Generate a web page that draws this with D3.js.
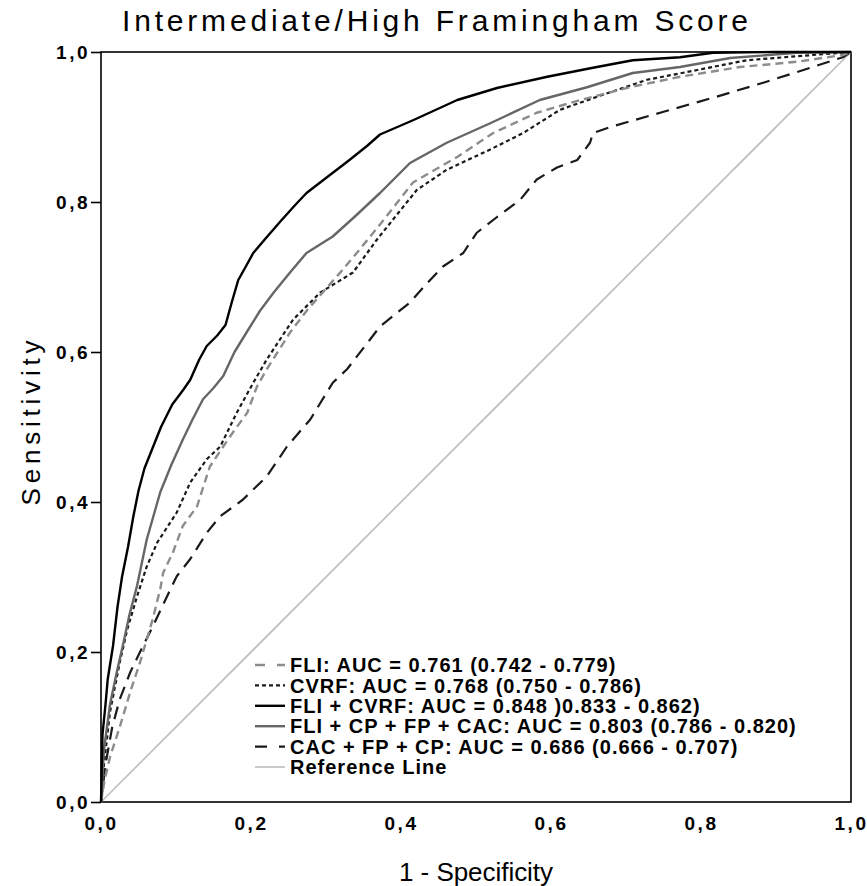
<!DOCTYPE html>
<html>
<head>
<meta charset="utf-8">
<script src="https://cdn.jsdelivr.net/npm/d3@7"></script>
<style>
  body { margin: 0; background: #fff; }
  svg { display: block; }
  .tick-label { font-family: "Liberation Sans", Arial, sans-serif; font-weight: bold; font-size: 19px; letter-spacing: 2.5px; }
  .axis-title { font-family: "Liberation Sans", Arial, sans-serif; font-size: 26px; }
  .legend-text { font-family: "Liberation Sans", Arial, sans-serif; font-weight: bold; font-size: 20px; letter-spacing: 1px; }
</style>
</head>
<body>
<svg id="chart" width="867" height="886"></svg>
<script>
// ************************************
// Data
// ************************************

let chartTitle = "Intermediate/High Framingham Score";
let xTitle = "1 - Specificity";
let yTitle = "Sensitivity";

let tickValues = [0, 0.2, 0.4, 0.6, 0.8, 1.0];
let tickLabels = ["0,0", "0,2", "0,4", "0,6", "0,8", "1,0"];

// [1 - specificity, sensitivity]
let fliCurve = [
  [0, 0], [0.005, 0.03], [0.012, 0.06], [0.025, 0.1], [0.04, 0.15], [0.052, 0.186],
  [0.069, 0.244], [0.079, 0.284], [0.083, 0.306], [0.096, 0.333], [0.109, 0.368],
  [0.128, 0.394], [0.145, 0.447], [0.163, 0.474], [0.176, 0.493], [0.195, 0.519],
  [0.208, 0.554], [0.221, 0.577], [0.252, 0.626], [0.275, 0.656], [0.319, 0.706],
  [0.341, 0.732], [0.372, 0.77], [0.416, 0.826], [0.475, 0.86], [0.523, 0.892],
  [0.581, 0.919], [0.639, 0.936], [0.705, 0.953], [0.772, 0.967], [0.852, 0.98],
  [0.928, 0.987], [0.989, 0.996], [1, 1]
];

let cvrfCurve = [
  [0, 0], [0.004, 0.05], [0.012, 0.12], [0.025, 0.186], [0.035, 0.23], [0.048, 0.274],
  [0.061, 0.314], [0.075, 0.346], [0.101, 0.386], [0.119, 0.426], [0.141, 0.457],
  [0.159, 0.474], [0.181, 0.519], [0.203, 0.559], [0.221, 0.59], [0.256, 0.643],
  [0.292, 0.679], [0.336, 0.706], [0.368, 0.75], [0.421, 0.816], [0.461, 0.843],
  [0.519, 0.87], [0.563, 0.892], [0.612, 0.923], [0.675, 0.945], [0.728, 0.963],
  [0.795, 0.976], [0.861, 0.989], [0.949, 0.996], [1, 1]
];

let fliCvrfCurve = [
  [0, 0], [0.002, 0.09], [0.006, 0.13], [0.009, 0.164], [0.016, 0.208], [0.022, 0.26],
  [0.028, 0.3], [0.036, 0.34], [0.043, 0.38], [0.05, 0.415], [0.058, 0.445],
  [0.068, 0.47], [0.08, 0.5], [0.095, 0.53], [0.11, 0.55], [0.119, 0.563],
  [0.131, 0.59], [0.141, 0.608], [0.155, 0.622], [0.166, 0.636], [0.174, 0.665],
  [0.183, 0.696], [0.192, 0.712], [0.203, 0.732], [0.22, 0.752], [0.24, 0.775],
  [0.258, 0.795], [0.274, 0.812], [0.3, 0.832], [0.33, 0.855], [0.355, 0.875],
  [0.372, 0.89], [0.416, 0.909], [0.475, 0.936], [0.528, 0.952], [0.595, 0.967],
  [0.656, 0.979], [0.709, 0.989], [0.772, 0.993], [0.816, 0.999], [0.9, 1], [1, 1]
];

let fliCpFpCacCurve = [
  [0, 0], [0.004, 0.07], [0.012, 0.13], [0.021, 0.173], [0.029, 0.208], [0.038, 0.25],
  [0.048, 0.288], [0.061, 0.35], [0.079, 0.413], [0.094, 0.45], [0.109, 0.483],
  [0.122, 0.51], [0.136, 0.537], [0.15, 0.552], [0.163, 0.568], [0.178, 0.6],
  [0.194, 0.626], [0.212, 0.655], [0.23, 0.679], [0.252, 0.706], [0.274, 0.732],
  [0.309, 0.754], [0.34, 0.782], [0.372, 0.812], [0.412, 0.852], [0.461, 0.879],
  [0.519, 0.905], [0.585, 0.936], [0.648, 0.953], [0.709, 0.972], [0.772, 0.98],
  [0.839, 0.992], [0.928, 0.999], [1, 1]
];

let cacFpCpCurve = [
  [0, 0], [0.006, 0.05], [0.015, 0.1], [0.025, 0.137], [0.039, 0.173], [0.052, 0.2],
  [0.069, 0.234], [0.088, 0.274], [0.101, 0.301], [0.119, 0.324], [0.141, 0.359],
  [0.159, 0.381], [0.189, 0.403], [0.221, 0.434], [0.248, 0.474], [0.279, 0.51],
  [0.309, 0.559], [0.328, 0.577], [0.359, 0.617], [0.372, 0.634], [0.412, 0.666],
  [0.435, 0.692], [0.456, 0.714], [0.483, 0.732], [0.501, 0.759], [0.528, 0.78],
  [0.559, 0.803], [0.581, 0.83], [0.608, 0.846], [0.635, 0.856], [0.652, 0.879],
  [0.656, 0.892], [0.679, 0.9], [0.749, 0.92], [0.816, 0.939], [0.883, 0.959],
  [0.949, 0.98], [0.989, 0.993], [1, 1]
];

let referenceLine = [[0, 0], [1, 1]];

let legendLabels = [
  "FLI: AUC = 0.761 (0.742 - 0.779)",
  "CVRF: AUC = 0.768 (0.750 - 0.786)",
  "FLI + CVRF: AUC = 0.848 )0.833 - 0.862)",
  "FLI + CP + FP + CAC: AUC = 0.803 (0.786 - 0.820)",
  "CAC + FP + CP: AUC = 0.686 (0.666 - 0.707)",
  "Reference Line"
];

// ************************************
// Layout & styles
// ************************************

let plotLeft = 101, plotTop = 52, plotSize = 750;

let x = d3.scaleLinear().domain([0, 1]).range([plotLeft, plotLeft + plotSize]);
let y = d3.scaleLinear().domain([0, 1]).range([plotTop + plotSize, plotTop]);

let svg = d3.select("#chart");

// one style per series, same order as the legend
let series = [
  { data: fliCurve, color: "#8c8c8c", width: 2.4, dash: "8,5", legendDash: "10,12" },
  { data: cvrfCurve, color: "#1a1a1a", width: 2.2, dash: "4,3", legendDash: "4,3" },
  { data: fliCvrfCurve, color: "#000", width: 2.4, dash: null, legendDash: null },
  { data: fliCpFpCacCurve, color: "#666", width: 2.4, dash: null, legendDash: null },
  { data: cacFpCpCurve, color: "#1a1a1a", width: 2.2, dash: "13,8", legendDash: "12,12" },
  { data: referenceLine, color: "#bdbdbd", width: 1.6, dash: null, legendDash: null }
];

drawAxes();
drawCurves();
drawLegend();

// ************************************
// Function definitions
// ************************************

function drawAxes() {
  // frame around the plot
  svg.append("rect")
    .attr("x", plotLeft)
    .attr("y", plotTop)
    .attr("width", plotSize)
    .attr("height", plotSize)
    .attr("fill", "none")
    .attr("stroke", "#000")
    .attr("stroke-width", 1.6);

  let yAxis = d3.axisLeft(y)
    .tickValues(tickValues)
    .tickFormat(function(d, i) { return tickLabels[i]; })
    .tickSize(10)
    .tickPadding(1);
  let yG = svg.append("g")
    .attr("transform", "translate(" + plotLeft + ",0)")
    .call(yAxis);
  yG.select(".domain").remove();
  yG.selectAll(".tick line").attr("stroke", "#000").attr("stroke-width", 1.6);
  yG.selectAll(".tick text").attr("class", "tick-label").attr("fill", "#000");

  let xAxis = d3.axisBottom(x)
    .tickValues(tickValues)
    .tickFormat(function(d, i) { return tickLabels[i]; })
    .tickSize(0)
    .tickPadding(15);
  let xG = svg.append("g")
    .attr("transform", "translate(0," + (plotTop + plotSize) + ")")
    .call(xAxis);
  xG.select(".domain").remove();
  xG.selectAll(".tick text").attr("class", "tick-label").attr("fill", "#000");

  svg.append("text")
    .attr("class", "axis-title")
    .attr("x", 435)
    .attr("y", 31)
    .attr("text-anchor", "middle")
    .attr("textLength", 626)
    .attr("lengthAdjust", "spacing")
    .style("font-size", "30px")
    .text(chartTitle);

  svg.append("text")
    .attr("class", "axis-title")
    .attr("x", 476)
    .attr("y", 881)
    .attr("text-anchor", "middle")
    .attr("textLength", 154)
    .attr("lengthAdjust", "spacing")
    .text(xTitle);

  svg.append("text")
    .attr("class", "axis-title")
    .attr("transform", "translate(40,423) rotate(-90)")
    .attr("text-anchor", "middle")
    .attr("textLength", 165)
    .attr("lengthAdjust", "spacing")
    .text(yTitle);
}

function drawCurves() {
  let line = d3.line()
    .x(function(d) { return x(d[0]); })
    .y(function(d) { return y(d[1]); });

  // reference line first so the curves sit on top
  let order = [5, 4, 1, 0, 3, 2];
  order.forEach(function(i) {
    let s = series[i];
    svg.append("path")
      .datum(s.data)
      .attr("d", line)
      .attr("fill", "none")
      .attr("stroke", s.color)
      .attr("stroke-width", s.width)
      .attr("stroke-linejoin", "round")
      .attr("stroke-dasharray", s.dash);
  });
}

function drawLegend() {
  let legendX = 255, legendY = 665, rowGap = 20.4;

  let rows = svg.append("g")
    .selectAll("g")
    .data(legendLabels)
    .enter()
    .append("g")
    .attr("transform", function(d, i) {
      return "translate(" + legendX + "," + (legendY + i * rowGap) + ")";
    });

  rows.append("line")
    .attr("x1", 0)
    .attr("x2", 30)
    .attr("stroke", function(d, i) { return series[i].color; })
    .attr("stroke-width", function(d, i) { return series[i].width; })
    .attr("stroke-dasharray", function(d, i) { return series[i].legendDash; });

  rows.append("text")
    .attr("class", "legend-text")
    .attr("x", 35)
    .attr("dy", "0.36em")
    .text(function(d) { return d; });
}
</script>
</body>
</html>
